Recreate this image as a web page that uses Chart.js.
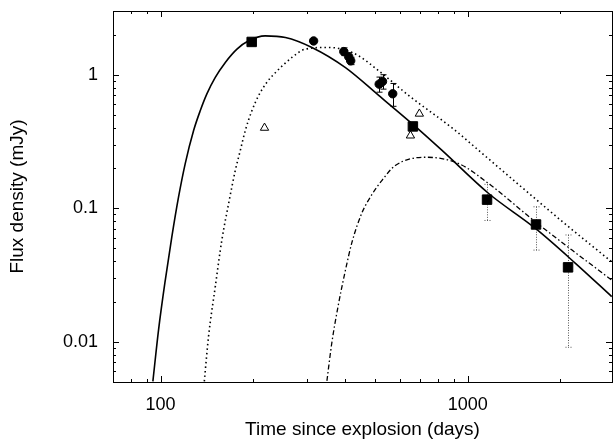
<!DOCTYPE html>
<html>
<head>
<meta charset="utf-8">
<script src="https://cdn.jsdelivr.net/npm/chart.js@4/dist/chart.umd.min.js"></script>
<style>
  html, body { margin: 0; padding: 0; background: #fff; }
  canvas { display: block; }
</style>
</head>
<body>
<canvas id="chart" width="613" height="443"></canvas>
<script>
// ===== DATA =====
const xTickLabels = [100, 1000];
const yTickLabels = [0.01, 0.1, 1];

// filled squares
const squareDays = [198, 663, 1156, 1669, 2122];
const squareFlux = [1.76, 0.41, 0.116, 0.0756, 0.0361];
const squareErr = [0, 0, 0.035, 0.027, 0.027];

// filled circles
const circleDays = [315, 395, 410, 416, 515, 528, 570];
const circleFlux = [1.79, 1.49, 1.36, 1.27, 0.85, 0.89, 0.72];
const circleErr = [0, 0.1, 0.1, 0.08, 0.11, 0.11, 0.14];

// open triangles
const triangleDays = [218, 651, 696];
const triangleFlux = [0.40, 0.35, 0.51];

// model curves
const solidDays = [94.4, 98.5, 103.6, 108.8, 114.4, 120.3, 128.1, 134.7, 141.5, 150.7, 162.5, 177.3, 193.5, 219, 255, 311, 400, 513, 659, 825, 1170, 1662, 2243, 2944];
const solidFlux = [0.00506, 0.0123, 0.029, 0.061, 0.121, 0.216, 0.382, 0.539, 0.718, 0.955, 1.236, 1.555, 1.794, 1.954, 1.90, 1.60, 1.13, 0.70, 0.43, 0.271, 0.129, 0.0706, 0.0387, 0.0218];

const dottedDays = [138.8, 143.3, 150.7, 158.3, 166.5, 175.1, 181.8, 188.7, 198.4, 208.5, 221.4, 236.4, 267.7, 296, 352.5, 430.7, 513, 642, 912, 1086, 1503, 2081, 2944];
const dottedFlux = [0.00506, 0.011, 0.0259, 0.0577, 0.108, 0.192, 0.271, 0.382, 0.539, 0.697, 0.872, 1.035, 1.346, 1.555, 1.60, 1.43, 1.07, 0.70, 0.382, 0.271, 0.143, 0.076, 0.0397];

const dashDotDays = [348, 361, 380, 400, 420, 452, 488, 526, 581, 728, 935, 1170, 1662, 2186, 2944];
const dashDotFlux = [0.0051, 0.0098, 0.0194, 0.0345, 0.0557, 0.0918, 0.127, 0.162, 0.209, 0.241, 0.216, 0.153, 0.079, 0.0486, 0.029];

const toPoints = (xs, ys) => xs.map((x, i) => ({ x, y: ys[i] }));

// ===== PLUGINS =====
function drawErrors(ctx, xs, ys, days, flux, err, color, dash) {
  ctx.strokeStyle = color;
  ctx.lineWidth = 1;
  ctx.setLineDash(dash);
  days.forEach((d, i) => {
    if (!err[i]) return;
    const px = Math.round(xs.getPixelForValue(d)) + 0.5;
    const top = ys.getPixelForValue(flux[i] + err[i]);
    const bot = ys.getPixelForValue(flux[i] - err[i]);
    ctx.beginPath();
    ctx.moveTo(px, top);
    ctx.lineTo(px, bot);
    ctx.moveTo(px - 3, top);
    ctx.lineTo(px + 3, top);
    ctx.moveTo(px - 3, bot);
    ctx.lineTo(px + 3, bot);
    ctx.stroke();
  });
  ctx.setLineDash([]);
}

const errorBars = {
  id: "errorBars",
  beforeDatasetsDraw(chart) {
    const { ctx, scales } = chart;
    ctx.save();
    drawErrors(ctx, scales.x, scales.y, squareDays, squareFlux, squareErr, "#555", [1, 1.5]);
    drawErrors(ctx, scales.x, scales.y, circleDays, circleFlux, circleErr, "#000", []);
    ctx.restore();
  }
};

function logTicks(scale) {
  const out = [];
  const lo = Math.floor(Math.log10(scale.min));
  const hi = Math.ceil(Math.log10(scale.max));
  for (let e = lo; e <= hi; e++) {
    for (let m = 1; m <= 9; m++) {
      const v = m * Math.pow(10, e);
      if (v > scale.min && v < scale.max) out.push({ v, major: m === 1 });
    }
  }
  return out;
}

const frame = {
  id: "frame",
  afterDraw(chart) {
    const { ctx, chartArea: a, scales } = chart;
    ctx.save();
    ctx.strokeStyle = "#000";
    ctx.lineWidth = 1;
    ctx.strokeRect(a.left + 0.5, a.top + 0.5, a.right - a.left, a.bottom - a.top);
    ctx.beginPath();
    logTicks(scales.x).forEach(t => {
      const px = Math.round(scales.x.getPixelForValue(t.v)) + 0.5;
      const len = t.major ? 6 : 3;
      ctx.moveTo(px, a.bottom); ctx.lineTo(px, a.bottom - len);
      ctx.moveTo(px, a.top); ctx.lineTo(px, a.top + len);
    });
    logTicks(scales.y).forEach(t => {
      const py = Math.round(scales.y.getPixelForValue(t.v)) + 0.5;
      const len = t.major ? 6 : 3;
      ctx.moveTo(a.left, py); ctx.lineTo(a.left + len, py);
      ctx.moveTo(a.right, py); ctx.lineTo(a.right - len, py);
    });
    ctx.stroke();
    ctx.restore();
  }
};

// no label overflow padding, the frame is fixed by layout padding
const noPad = s => {
  s.paddingTop = 0; s.paddingBottom = 0; s.paddingLeft = 0; s.paddingRight = 0;
};

// ===== CHART =====
const font = { family: "'Liberation Sans', Arial, sans-serif", size: 18 };

const curve = (label, xs, ys, dash, width) => ({
  label,
  data: toPoints(xs, ys),
  borderColor: "#000",
  borderWidth: width,
  borderDash: dash,
  pointRadius: 0,
  fill: false,
  cubicInterpolationMode: "monotone",
  order: 2
});

const markers = (label, xs, ys, style, radius, bg) => ({
  label,
  data: toPoints(xs, ys),
  showLine: false,
  pointStyle: style,
  pointRadius: radius,
  pointBackgroundColor: bg,
  pointBorderColor: "#000",
  pointBorderWidth: 1,
  order: 1
});

new Chart(document.getElementById("chart"), {
  type: "line",
  data: {
    datasets: [
      curve("model 1", solidDays, solidFlux, [], 1.6),
      curve("model 2", dottedDays, dottedFlux, [1.5, 3], 1.6),
      curve("model 3", dashDotDays, dashDotFlux, [5, 2.5, 1.5, 2.5], 1.3),
      markers("squares", squareDays, squareFlux, "rect", 6.7, "#000"),
      markers("circles", circleDays, circleFlux, "circle", 4.2, "#000"),
      markers("triangles", triangleDays, triangleFlux, "triangle", 4.8, "#fff")
    ]
  },
  options: {
    responsive: false,
    animation: false,
    layout: { autoPadding: false, padding: { top: 11, right: 1, left: 0, bottom: 0 } },
    plugins: { legend: { display: false }, tooltip: { enabled: false } },
    scales: {
      x: {
        type: "logarithmic",
        min: 70,
        max: 2950,
        grid: { display: false, drawTicks: false },
        border: { display: false },
        afterBuildTicks: s => { s.ticks = xTickLabels.map(v => ({ value: v })); },
        afterFit: s => { s.height = 61; noPad(s); },
        ticks: { color: "#000", font, padding: 12, maxRotation: 0, callback: v => String(v) },
        title: { display: true, text: "Time since explosion (days)", color: "#000", font: { ...font, size: 19 }, padding: { top: 0, bottom: 2 } }
      },
      y: {
        type: "logarithmic",
        min: 0.005,
        max: 3,
        grid: { display: false, drawTicks: false },
        border: { display: false },
        afterBuildTicks: s => { s.ticks = yTickLabels.map(v => ({ value: v })); },
        afterFit: s => { s.width = 113; noPad(s); },
        ticks: { color: "#000", font, padding: 15, callback: v => String(v) },
        title: { display: true, text: "Flux density (mJy)", color: "#000", font: { ...font, size: 19 }, padding: { top: 6, bottom: 0 } }
      }
    }
  },
  plugins: [errorBars, frame]
});
</script>
</body>
</html>
